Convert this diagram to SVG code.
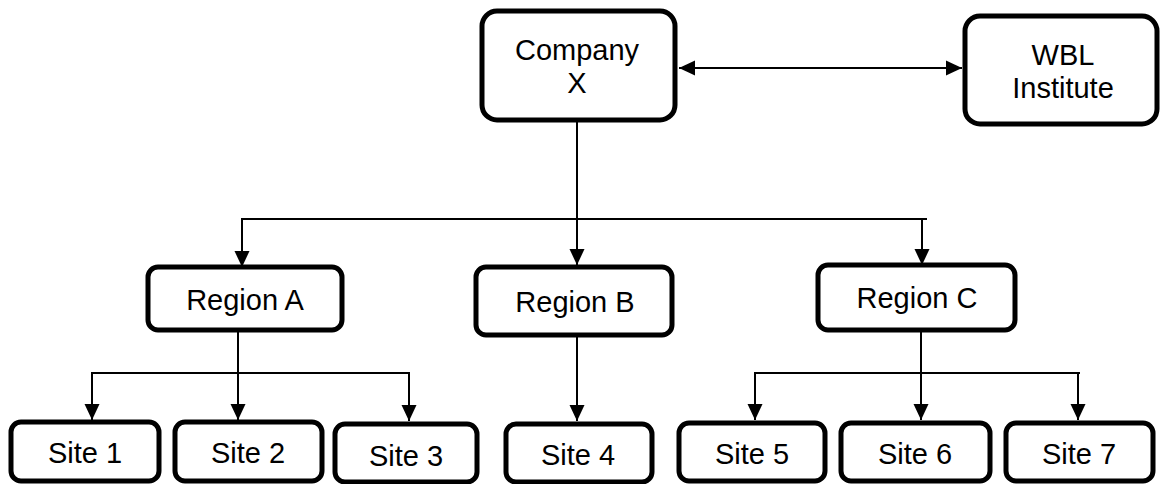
<svg xmlns="http://www.w3.org/2000/svg" width="1162" height="484" viewBox="0 0 1162 484">
<style>
.box{fill:#fff;stroke:#000;stroke-width:5}
.lbl{font-family:"Liberation Sans",Arial,sans-serif;font-size:29px;fill:#000;text-anchor:middle}
.ln{fill:none;stroke:#000;stroke-width:2}
</style>
<defs>
<marker id="ah" markerUnits="userSpaceOnUse" markerWidth="18" markerHeight="18" viewBox="0 0 18 18" refX="16" refY="9" orient="auto-start-reverse">
<path d="M0,1.5 L16,9 L0,16.5 Z" fill="#000"/>
</marker>
</defs>
<rect width="1162" height="484" fill="#fff"/>
<g id="connectors">
<line class="ln" x1="679" y1="68" x2="962" y2="68" marker-start="url(#ah)" marker-end="url(#ah)"/>
<line class="ln" x1="577" y1="122" x2="577" y2="265" marker-end="url(#ah)"/>
<polyline class="ln" points="242,252 242,219 927,219"/>
<line class="ln" x1="242" y1="250" x2="242" y2="267" marker-end="url(#ah)"/>
<line class="ln" x1="922" y1="219" x2="922" y2="265" marker-end="url(#ah)"/>
<line class="ln" x1="238" y1="332" x2="238" y2="420" marker-end="url(#ah)"/>
<polyline class="ln" points="92,405 92,373 409,373 409,405"/>
<line class="ln" x1="92" y1="403" x2="92" y2="420" marker-end="url(#ah)"/>
<line class="ln" x1="409" y1="403" x2="409" y2="421" marker-end="url(#ah)"/>
<line class="ln" x1="577" y1="337" x2="577" y2="421" marker-end="url(#ah)"/>
<line class="ln" x1="921" y1="332" x2="921" y2="420" marker-end="url(#ah)"/>
<polyline class="ln" points="755,405 755,373 1080,373"/>
<line class="ln" x1="755" y1="403" x2="755" y2="420" marker-end="url(#ah)"/>
<line class="ln" x1="1078" y1="373" x2="1078" y2="420" marker-end="url(#ah)"/>
</g>
<g id="company-x"><rect class="box" x="482" y="11" width="193" height="109" rx="15"/><text class="lbl" x="577" y="60">Company</text><text class="lbl" x="577" y="93">X</text></g>
<g id="wbl-institute"><rect class="box" x="965" y="16" width="192" height="108" rx="15"/><text class="lbl" x="1063" y="65">WBL</text><text class="lbl" x="1063" y="98">Institute</text></g>
<g id="region-a"><rect class="box" x="148" y="267" width="194" height="63" rx="10"/><text class="lbl" x="245" y="310">Region A</text></g>
<g id="region-b"><rect class="box" x="476" y="267" width="196" height="68" rx="10"/><text class="lbl" x="575" y="312">Region B</text></g>
<g id="region-c"><rect class="box" x="818" y="265" width="197" height="65" rx="10"/><text class="lbl" x="917" y="308">Region C</text></g>
<g id="site-1"><rect class="box" x="11" y="422" width="148" height="59" rx="10"/><text class="lbl" x="85" y="463">Site 1</text></g>
<g id="site-2"><rect class="box" x="175" y="422" width="147" height="59" rx="10"/><text class="lbl" x="248" y="463">Site 2</text></g>
<g id="site-3"><rect class="box" x="335" y="424" width="142" height="58" rx="10"/><text class="lbl" x="406" y="466">Site 3</text></g>
<g id="site-4"><rect class="box" x="506" y="424" width="146" height="58" rx="10"/><text class="lbl" x="578" y="465">Site 4</text></g>
<g id="site-5"><rect class="box" x="679" y="423" width="146" height="58" rx="10"/><text class="lbl" x="752" y="464">Site 5</text></g>
<g id="site-6"><rect class="box" x="841" y="423" width="149" height="58" rx="10"/><text class="lbl" x="915" y="464">Site 6</text></g>
<g id="site-7"><rect class="box" x="1006" y="423" width="147" height="58" rx="10"/><text class="lbl" x="1079" y="464">Site 7</text></g>
</svg>
